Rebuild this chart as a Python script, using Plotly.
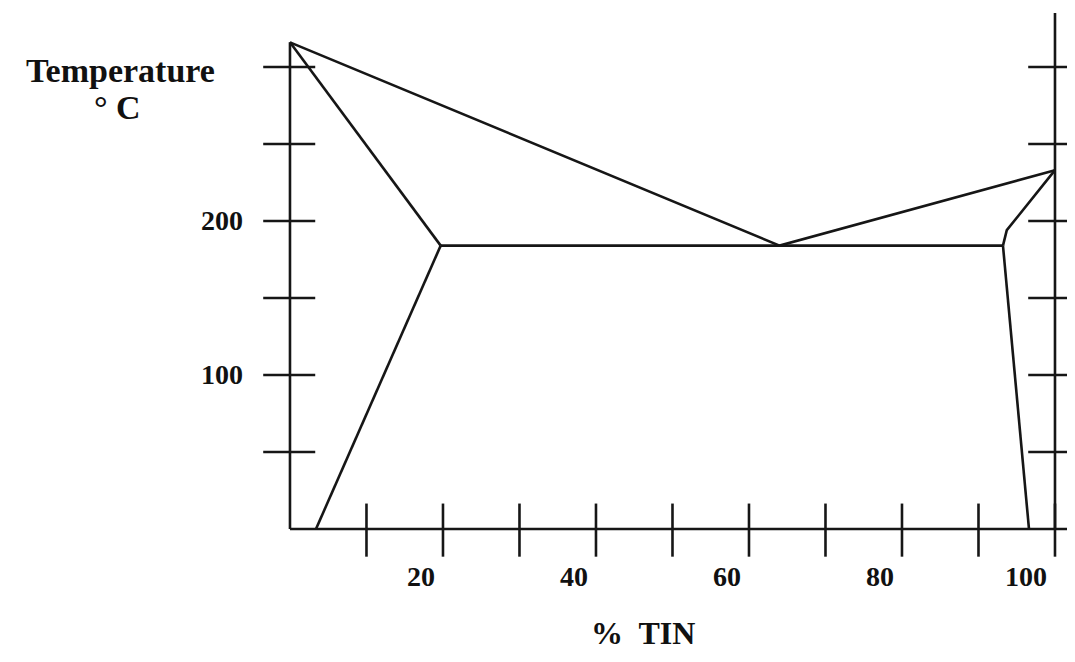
import plotly.graph_objects as go

# ---- data ----
liquidus_x = [0, 64, 100]
liquidus_t = [316, 184, 233]
left_solidus_x = [0, 19.7]
left_solidus_t = [316, 184]
left_solvus_x = [19.7, 3.4]
left_solvus_t = [184, 0]
eutectic_x = [19.7, 93.2]
eutectic_t = [184, 184]
right_solidus_x = [100, 93.7, 93.2]
right_solidus_t = [233, 194, 184]
right_solvus_x = [93.2, 96.6]
right_solvus_t = [184, 0]

x_ticks = [10, 20, 30, 40, 50, 60, 70, 80, 90, 100]
x_tick_labels = ["20", "40", "60", "80", "100"]
x_label_vals = [20, 40, 60, 80, 100]
y_ticks = [50, 100, 150, 200, 250, 300]
y_tick_labels = ["100", "200"]
y_label_vals = [100, 200]

LINE = dict(color="#161616", width=2.6)
FONT = "Liberation Serif, Times New Roman, serif"

fig = go.Figure()

def seg(xs, ys):
    fig.add_trace(go.Scatter(x=xs, y=ys, mode="lines", line=LINE,
                             hoverinfo="skip", showlegend=False))

# phase boundaries
seg(liquidus_x, liquidus_t)
seg(left_solidus_x, left_solidus_t)
seg(left_solvus_x, left_solvus_t)
seg(eutectic_x, eutectic_t)
seg(right_solidus_x, right_solidus_t)
seg(right_solvus_x, right_solvus_t)

# axes drawn by hand
seg([0, 0], [0, 316])            # left axis
seg([0, 103], [0, 0])            # bottom axis
seg([100, 100], [0, 335])        # right axis

# x ticks (crossing the axis)
tx, ty = [], []
for v in x_ticks:
    tx += [v, v, None]
    ty += [16.5, -18, None]
fig.add_trace(go.Scatter(x=tx, y=ty, mode="lines", line=LINE,
                         hoverinfo="skip", showlegend=False))

# y ticks, left and right axes
lx, ly = [], []
for v in y_ticks:
    lx += [-3.5, 3.3, None, 96.5, 103, None]
    ly += [v, v, None, v, v, None]
fig.add_trace(go.Scatter(x=lx, y=ly, mode="lines", line=LINE,
                         hoverinfo="skip", showlegend=False))

for v, t in zip(x_label_vals, x_tick_labels):
    fig.add_annotation(x=v, y=-31, text=f"<b>{t}</b>", showarrow=False,
                       xanchor="right", yanchor="middle", xshift=-6,
                       font=dict(family=FONT, size=28, color="#111"))
for v, t in zip(y_label_vals, y_tick_labels):
    fig.add_annotation(x=-5.9, y=v, text=f"<b>{t}</b>", showarrow=False,
                       xanchor="right", yanchor="middle",
                       font=dict(family=FONT, size=28, color="#111"))

fig.add_annotation(x=-22.1, y=298, text="<b>Temperature</b>", showarrow=False,
                   xanchor="center", yanchor="middle",
                   font=dict(family=FONT, size=34, color="#111"))
fig.add_annotation(x=-22.6, y=274, text="<b>° C</b>", showarrow=False,
                   xanchor="center", yanchor="middle",
                   font=dict(family=FONT, size=34, color="#111"))
fig.add_annotation(x=46.2, y=0, yref="paper", text="<b>%  TIN</b>",
                   showarrow=False, xanchor="center", yanchor="bottom",
                   yshift=1,
                   font=dict(family=FONT, size=32, color="#111"))

fig.update_layout(
    width=1059, height=646,
    margin=dict(l=0, r=0, t=0, b=0),
    paper_bgcolor="white", plot_bgcolor="white",
    xaxis=dict(range=[-36.86, 101.57], visible=False, fixedrange=True),
    yaxis=dict(range=[-81.2, 338.3], visible=False, fixedrange=True),
    showlegend=False,
)

fig.write_html("out.html")
